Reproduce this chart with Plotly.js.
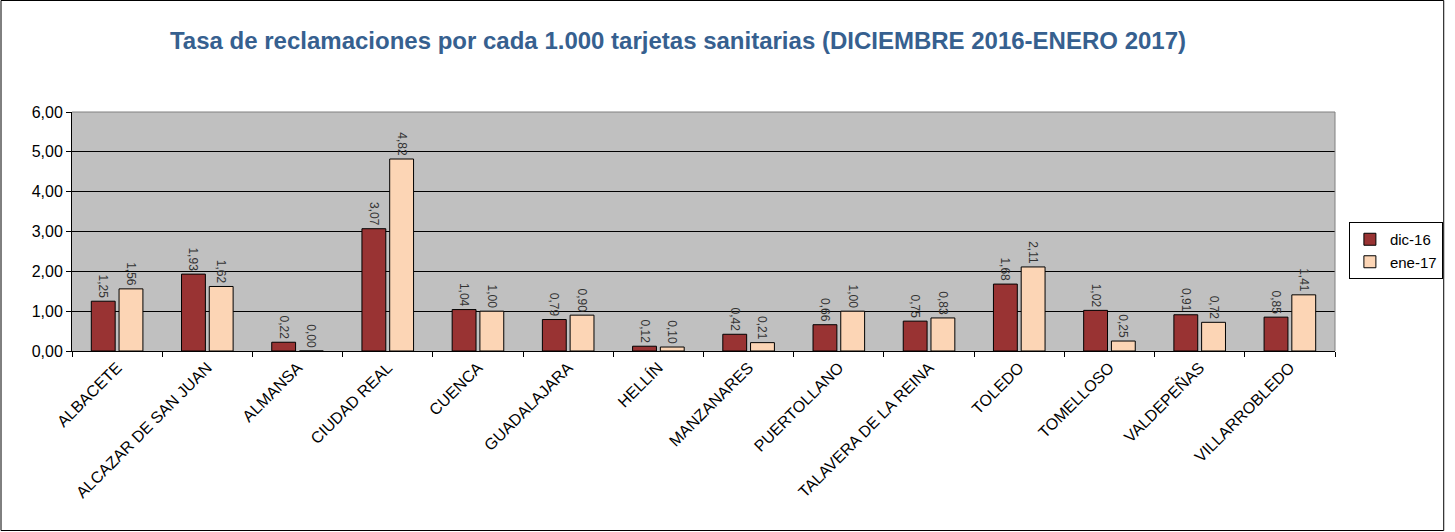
<!DOCTYPE html>
<html>
<head>
<meta charset="utf-8">
<script src="https://cdn.plot.ly/plotly-3.0.1.min.js"></script>
<style>html,body{margin:0;padding:0;background:#fff;overflow:hidden;}#chart{width:1455px;height:532px;}</style>
</head>
<body>
<div id="chart"></div>
<script>
const categories = ["ALBACETE","ALCAZAR DE SAN JUAN","ALMANSA","CIUDAD REAL","CUENCA","GUADALAJARA","HELLÍN","MANZANARES","PUERTOLLANO","TALAVERA DE LA REINA","TOLEDO","TOMELLOSO","VALDEPEÑAS","VILLARROBLEDO"];
const dic16 = [1.25,1.93,0.22,3.07,1.04,0.79,0.12,0.42,0.66,0.75,1.68,1.02,0.91,0.85];
const ene17 = [1.56,1.62,0.00,4.82,1.00,0.90,0.10,0.21,1.00,0.83,2.11,0.25,0.72,1.41];
const seriesNames = ["dic-16","ene-17"];
const yTicks = [0,1,2,3,4,5,6];

const L = 72, R = 111, T = 112, B = 181, W = 1455, H = 532;
const pw = W - L - R, ph = H - T - B;
function px(x){ return (x - L) / pw; }
function py(y){ return (H - B - y) / ph; }

const FONT = 'Arial, Liberation Sans, sans-serif';
const common = {
  type: 'bar', x: categories,
  texttemplate: '%{y:.2f}', textposition: 'outside', textangle: 90,
  textfont: {family: FONT, size: 12, color: '#333'},
  cliponaxis: false, constraintext: 'none', hoverinfo: 'x+y'
};
const data = [
  Object.assign({}, common, {name: seriesNames[0], y: dic16, marker: {color: '#993333', line: {color: '#000', width: 1}}}),
  Object.assign({}, common, {name: seriesNames[1], y: ene17, marker: {color: '#FCD5B5', line: {color: '#000', width: 1}}})
];

const layout = {
  width: W, height: H,
  margin: {l: L, r: R, t: T, b: B, pad: 0},
  paper_bgcolor: '#fff', plot_bgcolor: '#C0C0C0',
  separators: ',.',
  font: {family: FONT, color: '#000'},
  title: {text: '<b>Tasa de reclamaciones por cada 1.000 tarjetas sanitarias (DICIEMBRE 2016-ENERO 2017)</b>',
    font: {size: 24, color: '#36608F', family: FONT},
    x: 678 / W, xref: 'container', xanchor: 'center', y: 1 - 41 / H, yref: 'container', yanchor: 'middle'},
  barmode: 'group', bargap: 0.385, bargroupgap: 0.14,
  xaxis: {type: 'category', tickson: 'boundaries', ticks: 'outside', ticklen: 5, tickcolor: '#000',
    showline: true, linecolor: '#000', linewidth: 1, showgrid: false, tickangle: -45,
    tickfont: {size: 16, color: '#000'}, automargin: false},
  yaxis: {range: [0, 6], tickvals: yTicks, tickformat: '.2f', ticks: 'outside', ticklen: 5, tickcolor: '#000',
    showline: true, linecolor: '#000', linewidth: 1, showgrid: true, gridcolor: '#000', gridwidth: 1,
    zeroline: false, tickfont: {size: 16, color: '#000'}, automargin: false, fixedrange: true},
  legend: {x: px(1358), y: py(222), xanchor: 'left', yanchor: 'top', bordercolor: '#000', borderwidth: 1,
    bgcolor: '#fff', font: {size: 15, color: '#000'}, itemwidth: 30},
  shapes: [
    {type: 'line', xref: 'paper', yref: 'paper', x0: 0, x1: 1, y0: 1, y1: 1, line: {color: '#808080', width: 1}},
    {type: 'line', xref: 'paper', yref: 'paper', x0: 1, x1: 1, y0: 0, y1: 1, line: {color: '#808080', width: 1}},
    {type: 'rect', xref: 'paper', yref: 'paper', x0: px(0.5), x1: px(W - 1.5), y0: py(H - 1.5), y1: py(0.5),
      line: {color: '#000', width: 1}, layer: 'above'}
  ],
  showlegend: true
};

Plotly.newPlot('chart', data, layout, {displayModeBar: false, staticPlot: true});
</script>
</body>
</html>
